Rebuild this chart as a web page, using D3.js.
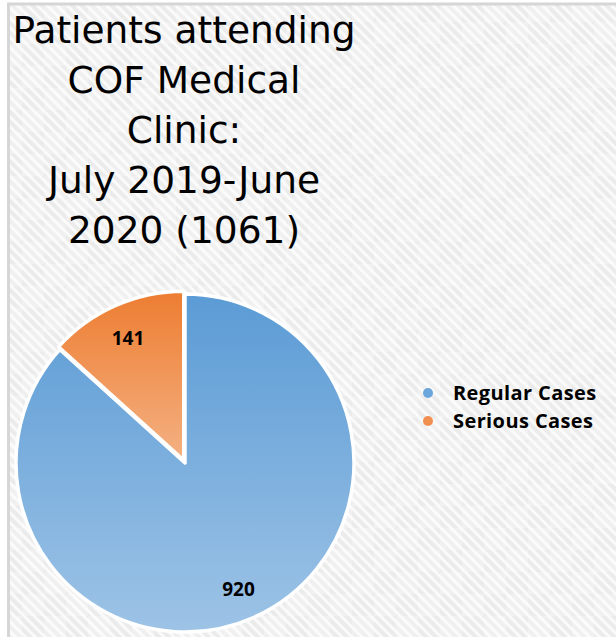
<!DOCTYPE html>
<html>
<head>
<meta charset="utf-8">
<script src="https://cdn.jsdelivr.net/npm/d3@7"></script>
<style>
  html, body { margin: 0; padding: 0; background: #fff; }
  svg { display: block; }
</style>
</head>
<body>
<svg id="chart"></svg>
<script>
const titleLines = ["Patients attending", "COF Medical", "Clinic:", "July 2019-June", "2020 (1061)"];
const categories = ["Regular Cases", "Serious Cases"];
const values = [920, 141];
const topColors = ["#5b9bd5", "#ed7d31"];
const bottomColors = ["#9dc3e6", "#f4b183"];
const legendColors = ["#6aa5dc", "#f08f4f"];

const width = 616, height = 637;
const cx = 185, cy = 463, radius = 169;

const svg = d3.select("#chart").attr("width", width).attr("height", height);
const defs = svg.append("defs");

// striped background
const pat = defs.append("pattern")
  .attr("id", "stripes")
  .attr("width", 7).attr("height", 7)
  .attr("patternUnits", "userSpaceOnUse")
  .attr("patternTransform", "rotate(-45)");
pat.append("rect").attr("width", 7).attr("height", 7).attr("fill", "#ebebeb");
pat.append("rect").attr("width", 3).attr("height", 7).attr("fill", "#fafafa");

// faint checker on top of the stripes
const chk = defs.append("pattern")
  .attr("id", "checker")
  .attr("width", 44).attr("height", 44)
  .attr("patternUnits", "userSpaceOnUse");
chk.append("rect").attr("width", 22).attr("height", 22).attr("fill", "#fff").attr("opacity", 0.25);
chk.append("rect").attr("x", 22).attr("y", 22).attr("width", 22).attr("height", 22).attr("fill", "#fff").attr("opacity", 0.25);

svg.append("rect").attr("width", width).attr("height", height).attr("fill", "#fff");
svg.append("rect").attr("x", 8).attr("y", 3).attr("width", width).attr("height", height)
  .attr("fill", "url(#stripes)");
svg.append("rect").attr("x", 8).attr("y", 3).attr("width", width).attr("height", height)
  .attr("fill", "url(#checker)");
// frame lines
svg.append("line").attr("x1", 8.5).attr("x2", 8.5).attr("y1", 3).attr("y2", height)
  .attr("stroke", "#d6d6d6").attr("stroke-width", 3);
svg.append("line").attr("x1", 7).attr("x2", width).attr("y1", 4).attr("y2", 4)
  .attr("stroke", "#d6d6d6").attr("stroke-width", 3);

// gradients
values.forEach((v, i) => {
  const g = defs.append("linearGradient")
    .attr("id", "grad" + i)
    .attr("x1", 0).attr("y1", 0).attr("x2", 0).attr("y2", 1);
  g.append("stop").attr("offset", "0%").attr("stop-color", topColors[i]);
  g.append("stop").attr("offset", "100%").attr("stop-color", bottomColors[i]);
});

// title
svg.append("g").selectAll("text")
  .data(titleLines)
  .enter()
  .append("text")
  .attr("x", 184)
  .attr("y", (d, i) => 43 + i * 50)
  .attr("text-anchor", "middle")
  .style("font-family", "'DejaVu Sans', sans-serif")
  .style("font-size", "37.5px")
  .attr("fill", "#000")
  .text(d => d);

// pie
const pie = d3.pie().sort(null).value(d => d);
const arcs = pie(values);
const arc = d3.arc().innerRadius(0).outerRadius(radius);

const pieG = svg.append("g").attr("transform", "translate(" + cx + "," + cy + ")");
pieG.selectAll("path")
  .data(arcs)
  .enter()
  .append("path")
  .attr("d", arc)
  .attr("transform", (d, i) => {
    if (i === 0) return null;
    const c = arc.centroid(d);
    const len = Math.hypot(c[0], c[1]);
    return "translate(" + (c[0] / len * 3) + "," + (c[1] / len * 3) + ")";
  })
  .attr("fill", (d, i) => "url(#grad" + i + ")")
  .attr("stroke", "#fff")
  .attr("stroke-width", 3.5)
  .attr("stroke-linejoin", "round");

// data labels
const labelPos = [[53.5, 133], [-57, -118]];
pieG.selectAll("text.lbl")
  .data(arcs)
  .enter()
  .append("text")
  .attr("class", "lbl")
  .attr("x", (d, i) => labelPos[i][0])
  .attr("y", (d, i) => labelPos[i][1])
  .attr("text-anchor", "middle")
  .style("font-family", "'Open Sans', sans-serif")
  .style("font-weight", "bold")
  .style("font-size", "19px")
  .attr("fill", "#000")
  .text(d => d.value);

// legend
const legend = svg.append("g").attr("transform", "translate(428,393)");
const item = legend.selectAll("g")
  .data(categories)
  .enter()
  .append("g")
  .attr("transform", (d, i) => "translate(0," + i * 28 + ")");
item.append("circle").attr("r", 5).attr("fill", (d, i) => legendColors[i]);
item.append("text")
  .attr("x", 25).attr("y", 6.5)
  .style("font-family", "'Open Sans', sans-serif")
  .style("font-weight", "bold")
  .style("font-size", "20px")
  .style("letter-spacing", "0.4px")
  .attr("fill", "#000")
  .text(d => d);
</script>
</body>
</html>
